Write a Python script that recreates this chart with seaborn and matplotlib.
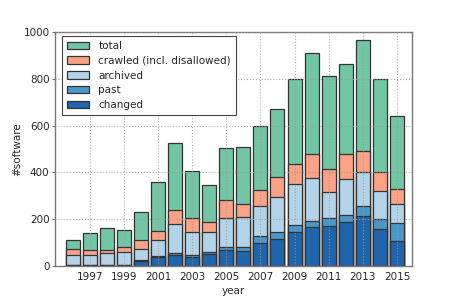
import matplotlib
matplotlib.use("Agg")
import matplotlib.pyplot as plt
import seaborn as sns
import pandas as pd

years = list(range(1996, 2016))
total = [113, 141, 161, 155, 231, 361, 525, 407, 346, 503, 507, 597, 670, 801, 911, 813, 863, 966, 801, 642]
crawled = [73, 70, 68, 83, 113, 151, 239, 207, 189, 280, 263, 323, 379, 437, 477, 413, 479, 492, 403, 331]
archived = [46, 45, 54, 61, 73, 111, 179, 145, 145, 207, 208, 258, 297, 349, 375, 317, 372, 401, 320, 263]
past = [5, 6, 6, 5, 24, 41, 56, 48, 61, 82, 80, 128, 145, 176, 192, 204, 220, 255, 199, 182]
changed = [3, 4, 4, 3, 20, 38, 49, 37, 52, 70, 65, 99, 117, 146, 168, 170, 189, 213, 159, 106]

series = [
    ("total", total, "#72c6a5"),
    ("crawled (incl. disallowed)", crawled, "#fba285"),
    ("archived", archived, "#b2d3e8"),
    ("past", past, "#4a97c9"),
    ("changed", changed, "#1f65ac"),
]

sns.set_style("white")
plt.rcParams["font.family"] = ["DejaVu Sans"]

fig = plt.figure(figsize=(4.57, 3.05), dpi=100)
ax = fig.add_axes([55 / 457, 1 - 266 / 305, (412 - 55) / 457, (266 - 32) / 305])

for label, vals, color in series:
    df = pd.DataFrame({"year": years, "n": vals})
    sns.barplot(data=df, x="year", y="n", native_scale=True, width=0.82,
                color=color, saturation=1, edgecolor="#333333", linewidth=0.9,
                label=label, ax=ax, errorbar=None)

ax.set_xlim(1994.97, 2015.88)
ax.set_ylim(0, 1000)
ax.set_xticks(list(range(1997, 2016, 2)))
ax.set_xticklabels([str(y) for y in range(1997, 2016, 2)])
ax.set_yticks([0, 200, 400, 600, 800, 1000])
ax.set_axisbelow(False)
ax.grid(True, linestyle=":", color="#9a9a9a", linewidth=0.8, alpha=0.8)
ax.set_xlabel("year", fontsize=7.5, labelpad=3.5)
ax.set_ylabel("#software", fontsize=7.5, labelpad=0.5)
ax.tick_params(axis="both", labelsize=7.5, direction="out", length=2.5, width=0.6,
               color="#666666", pad=1.5, left=True, bottom=False)
for s in ax.spines.values():
    s.set_color("#777777")
    s.set_linewidth(1.0)

leg = ax.legend(loc="upper left", bbox_to_anchor=(7 / 357, 1 - 4 / 234), borderaxespad=0,
                fontsize=7.5, fancybox=False, frameon=True, handlelength=2.1,
                handleheight=0.75, labelspacing=0.45, borderpad=0.5, handletextpad=0.9)
leg.get_frame().set_edgecolor("#444444")
leg.get_frame().set_linewidth(0.8)
leg.get_frame().set_alpha(1)

fig.savefig("out.png", dpi=100)
